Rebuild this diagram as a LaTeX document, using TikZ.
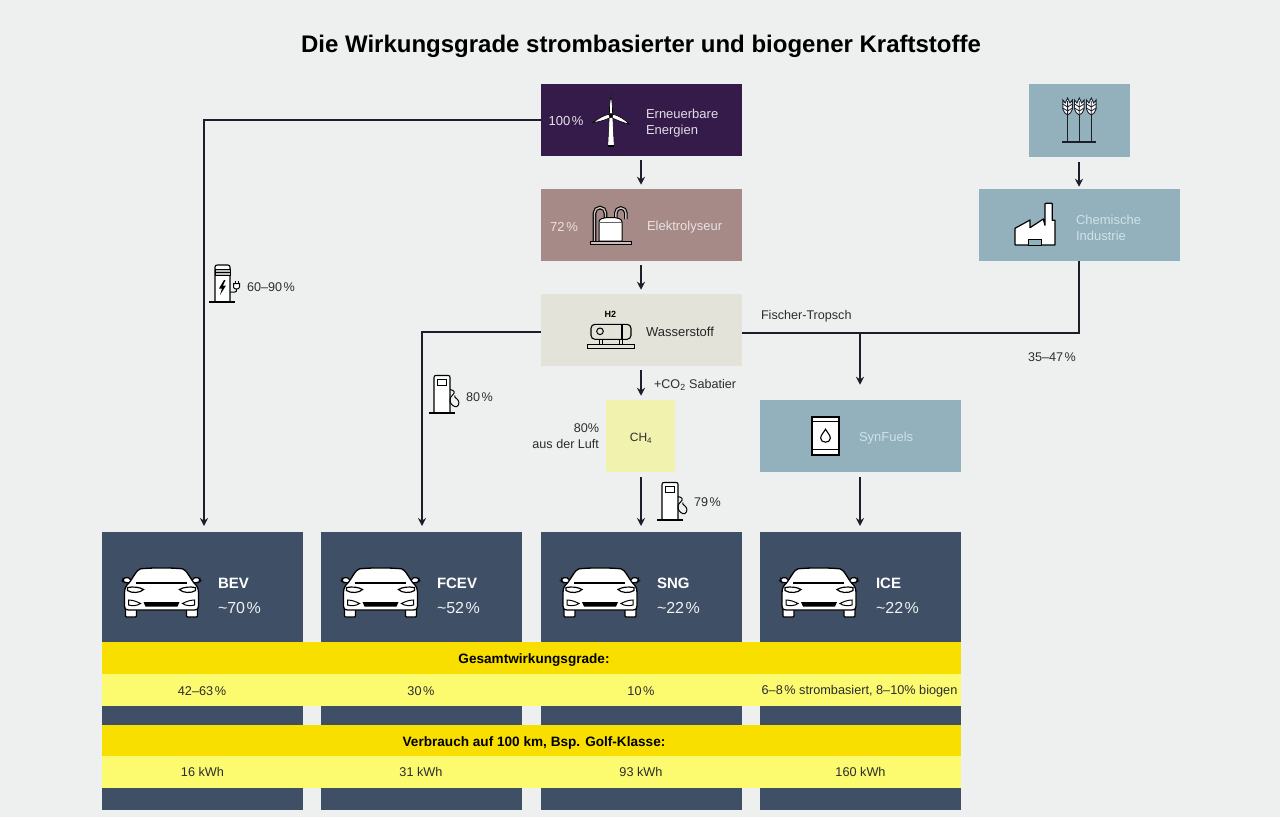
\documentclass[tikz,border=0pt]{standalone}
\usepackage{fontspec}
\setmainfont{Liberation Sans}
\usetikzlibrary{arrows.meta}
\definecolor{bgc}{HTML}{EEF0F0}
\definecolor{purp}{HTML}{351B4A}
\definecolor{rose}{HTML}{A68A88}
\definecolor{sand}{HTML}{E4E3DA}
\definecolor{teal}{HTML}{92B1BC}
\definecolor{pale}{HTML}{F1F2AE}
\definecolor{navy}{HTML}{3F4F65}
\definecolor{ydark}{HTML}{F9DF00}
\definecolor{ylight}{HTML}{FCFA6E}
\definecolor{ink}{HTML}{1B1F29}
\definecolor{txt}{HTML}{2A2C30}
\definecolor{palet}{HTML}{CFE2EA}
\newcommand{\fs}[1]{\fontsize{#1}{#1}\selectfont}
\newcommand{\fsb}[2]{\fontsize{#1}{#2}\selectfont}
\newcommand{\pc}{\kern1.6pt\%}
\tikzset{
  box/.style={rectangle,inner sep=0pt,outer sep=0pt},
  bigbox/.style={box,minimum width=201,minimum height=72.5},
  carbox/.style={box,fill=navy,minimum width=201,minimum height=278},
  band/.style={box,minimum width=859,minimum height=32},
  lab/.style={inner sep=0pt,outer sep=0pt,text=txt,font=\fsb{12.6}{16},align=left},
  boxlab/.style={inner sep=0pt,outer sep=0pt,anchor=west,font=\fsb{13}{16},align=left},
  vallab/.style={inner sep=0pt,outer sep=0pt,text=txt,font=\fs{12.7}},
  headlab/.style={inner sep=0pt,outer sep=0pt,text=black,font=\bfseries\fs{13.6}},
  carname/.style={inner sep=0pt,outer sep=0pt,anchor=west,text=white,font=\bfseries\fs{15}},
  carval/.style={inner sep=0pt,outer sep=0pt,anchor=west,text=white!92!navy,font=\fs{16}},
  conn/.style={draw=ink,line width=1.7},
  arr/.style={conn,-{Stealth[length=8,width=8]}},
  caricon/.pic={
    \begin{scope}[draw=black,line width=1.2,fill=white]
      \foreach \s in {-1,1}{
        \begin{scope}[xscale=\s]
          \path[fill=white,draw=black,rounded corners=1] (25,40) -- (25,49) -- (36,49) -- (36,40) -- cycle;
          \path[fill=white,draw=black,rounded corners=2] (30,14.5) -- (31,10) -- (38,9.5) -- (39,13) -- (36,15) -- cycle;
        \end{scope}}
      \path[fill=white,draw=black,line width=1.3] (-21,0.8) .. controls (-8,-0.4) and (8,-0.4) .. (21,0.8)
        .. controls (25,1.5) and (29,11) .. (33,15.5) .. controls (36,18) and (37,21) .. (37,25)
        -- (37,38) .. controls (37,41) and (36,42) .. (33,42) -- (-33,42) .. controls (-36,42) and (-37,41) .. (-37,38)
        -- (-37,25) .. controls (-37,21) and (-36,18) .. (-33,15.5) .. controls (-29,11) and (-25,1.5) .. (-21,0.8) -- cycle;
      \draw[line width=2] (-26,14.5) -- (25,14.5);
      \foreach \s in {-1,1}{
        \begin{scope}[xscale=\s]
          \path[fill=white,draw=black,line width=1.2] (34,19.5) .. controls (28,18.5) and (22,19) .. (18,21.5) .. controls (21,25) and (30,25.5) .. (34,22.5) -- cycle;
          \path[fill=white,draw=black,line width=1] (33,32) .. controls (28,32) and (24,34) .. (21,35.5) .. controls (24,38) and (30,38) .. (33,37) -- cycle;
        \end{scope}}
      \path[fill=black] (-18,34) -- (18,34) -- (16,38.5) -- (-16,38.5) -- cycle;
    \end{scope}},
  pumpicon/.pic={
    \path[fill=white,draw=black,line width=1.1] (5,37.5) -- (5,2) .. controls (5,0.5) and (6,0) .. (7,0) -- (19,0) .. controls (20.5,0) and (21,0.5) .. (21,2) -- (21,37.5) -- cycle;
    \path[fill=white,draw=black,line width=1] (8,3.5) rectangle (17,9.5);
    \draw[black,line width=1.1] (0,37.5) -- (26,37.5);
    \draw[black,line width=1] (21,14) .. controls (26,15) and (26,17) .. (24,19) .. controls (22,21) and (20,23) .. (21,26)
       .. controls (22,29) and (25,32) .. (28,31) .. controls (31,29) and (30,25) .. (28,23.5) .. controls (26,22) and (25,21) .. (26,20);
  },
  turbineicon/.pic={
    \path[fill=white,draw=black,line width=.5] (-1.8,2) -- (-3.2,30) -- (3.2,30) -- (1.8,2) -- cycle;
    \path[fill=black] (-3.4,29) rectangle (3.4,31);
    \path[fill=white,draw=black,line width=.6] (-1.4,-2) .. controls (-2,-8) and (-1,-15) .. (0,-20) .. controls (1,-15) and (1.8,-8) .. (1.4,-2) -- cycle;
    \path[fill=white,draw=black,line width=.6] (-2,-1.5) .. controls (-8,0) and (-13,3) .. (-18,7) .. controls (-12,6) and (-6,4.5) .. (-1,2) -- cycle;
    \path[fill=white,draw=black,line width=.6] (2,-1.5) .. controls (8,0) and (14,4) .. (18.5,8.5) .. controls (12,7) and (6,4.5) .. (1,2) -- cycle;
    \path[fill=black] (0,0) circle (1.6);
  },
  electroicon/.pic={
    \foreach \a/\b/\r in {-16/-5/5.5, 5.3/15.4/5.05}{
      \draw[black,line width=3.6] (\a,30) -- (\a,2) arc[start angle=180,end angle=360,radius=\r] -- (\b,8);
      \draw[rose!55!white,line width=1.4] (\a,30) -- (\a,2) arc[start angle=180,end angle=360,radius=\r] -- (\b,8);
    }
    \path[fill=white,draw=black,line width=1] (-11.5,30) -- (-11.5,11) .. controls (-11.5,8) and (-8,6.5) .. (0,6.5) .. controls (8,6.5) and (11.5,8) .. (11.5,11) -- (11.5,30) -- cycle;
    \draw[black!60,line width=1.4] (-11.5,11.5) -- (11.5,11.5);
    \path[fill=rose!55!white,draw=black,line width=.8] (-20.5,30) rectangle (21,33.5);
  },
  tankicon/.pic={
    \path[fill=white!0!sand,draw=black,line width=1.1,rounded corners=4] (-20,0) rectangle (20,15);
    \draw[black,line width=1] (-11,7) circle (3.3);
    \draw[black,line width=1.1] (11,0) -- (11,15);
    \foreach \q in {-10,10}{\draw[black,line width=1] (\q-1.5,15) -- (\q-1.5,20) (\q+1.5,15) -- (\q+1.5,20);}
    \path[fill=sand,draw=black,line width=.9] (-23.5,20) rectangle (23.5,24);
  },
  chargeicon/.pic={
    \path[fill=white,draw=black,line width=1.1] (6,37) -- (6,2) .. controls (6,.5) and (7,0) .. (8.5,0) -- (18.5,0) .. controls (20,0) and (21,.5) .. (21,2) -- (21,37) -- cycle;
    \path[fill=black!25,draw=black,line width=.8] (6,4.5) rectangle (21,10);
    \draw[black,line width=.7] (6,7.2) -- (21,7.2);
    \draw[black,line width=1.1] (0,37) -- (26,37);
    \path[fill=black] (15,15) -- (10,23.5) -- (13,23.5) -- (11,30) -- (17,20.5) -- (14,20.5) -- (16.5,15) -- cycle;
    \draw[black,line width=1] (21,27) -- (26,27) .. controls (27.5,27) and (27.5,26) .. (27.5,24);
    \path[fill=white,draw=black,line width=1] (24.5,18.5) -- (30.5,18.5) -- (30.5,22) .. controls (30.5,23.5) and (29,24) .. (27.5,24) .. controls (26,24) and (24.5,23.5) .. (24.5,22) -- cycle;
    \draw[black,line width=1] (26,18.5) -- (26,15.5) (29,18.5) -- (29,15.5);
  },
  wheaticon/.pic={
    \foreach \q in {-11.7,0,12}{
      \draw[ink,line width=1.4] (\q,12) -- (\q,44);
      \begin{scope}[shift={(\q,0)}]
        \path[fill=white,draw=ink,line width=.9] (-4.8,2) -- (-4.8,11) .. controls (-4.8,14) and (-1.5,16) .. (0,17) .. controls (1.5,16) and (4.8,14) .. (4.8,11) -- (4.8,2) -- (2.4,5) -- (0,0) -- (-2.4,5) -- cycle;
        \draw[ink,line width=.8] (-4.8,6) -- (0,9) -- (4.8,6) (-4.8,10) -- (0,13) -- (4.8,10) (0,3) -- (0,17);
      \end{scope}
    }
    \draw[ink,line width=1.3] (-17,44) -- (17,44);
  },
  factoryicon/.pic={
    \path[fill=white,draw=black,line width=1.2,line join=round] (0,41.7) -- (0,25) -- (15,16.7) -- (15,24.4) -- (28.3,15.7) -- (30,22) -- (30,0.5) .. controls (30,0) and (30.5,0) .. (31,0) -- (36.5,0) .. controls (37,0) and (37.3,0) .. (37.3,0.5) -- (37.3,17) -- (40,17) -- (40,41.7) -- cycle;
    \path[fill=teal,draw=black,line width=.9] (13.3,41.7) -- (13.3,35.7) -- (26,35.7) -- (26,41.7) -- cycle;
  },
  barrelicon/.pic={
    \path[fill=white,draw=black,line width=1.1] (1,0) rectangle (28,38);
    \draw[black,line width=1.1] (1,5) -- (28,5) (1,33) -- (28,33);
    \draw[black,line width=1.6] (0,0) -- (29,0) (0,38) -- (29,38);
    \draw[black,line width=1.1] (14.5,12.5) .. controls (12.5,16) and (9.7,18.5) .. (9.7,21.5) .. controls (9.7,24) and (12,25.5) .. (14.5,25.5) .. controls (17,25.5) and (19.3,24) .. (19.3,21.5) .. controls (19.3,18.5) and (16.5,16) .. (14.5,12.5) -- cycle;
  }
}
\begin{document}
\begin{tikzpicture}[x=1pt,y=-1pt]
\useasboundingbox (0,0) rectangle (1280,817);
\fill[bgc] (0,0) rectangle (1280,817);

\node[inner sep=0pt,font=\bfseries\fs{24},text=black] (title) at (641,46) {Die Wirkungsgrade strombasierter und biogener Kraftstoffe};

% process boxes
\node[bigbox,fill=purp] (ee) at (641.5,120) {};
\node[bigbox,fill=rose] (ely) at (641.5,225) {};
\node[bigbox,fill=sand] (ws) at (641.5,330) {};
\node[box,fill=teal,minimum width=101,minimum height=73] (wheat) at (1079.5,120.5) {};
\node[bigbox,fill=teal] (chem) at (1079.5,225) {};
\node[box,fill=pale,minimum width=69,minimum height=72.5] (chf) at (640.5,436) {};
\node[bigbox,fill=teal] (syn) at (860.5,436) {};

% car boxes
\node[carbox] (bev) at (202.5,671) {};
\node[carbox] (fcev) at (421.5,671) {};
\node[carbox] (sng) at (641.5,671) {};
\node[carbox] (ice) at (860.5,671) {};

% bands
\node[band,fill=ydark] (b1) at (531.5,658) {};
\node[band,fill=ylight] (b2) at (531.5,689.5) {};
\node[band,fill=ydark] (b3) at (531.5,740.5) {};
\node[band,fill=ylight] (b4) at (531.5,771.5) {};

% connectors
\draw[arr,shorten <=4,shorten >=4] ([xshift=-.5]ee.south) -- ([xshift=-.5]ely.north);
\draw[arr,shorten <=4,shorten >=4] ([xshift=-.5]ely.south) -- ([xshift=-.5]ws.north);
\draw[arr,shorten <=4,shorten >=4] ([xshift=.5]ws.south -| chf.north) -- ([xshift=.5]chf.north);
\draw[arr,shorten <=5,shorten >=6] ([xshift=.5]chf.south) -- ([xshift=.5]chf.south |- sng.north);
\draw[arr,shorten <=5,shorten >=6] ([xshift=-.5]syn.south) -- ([xshift=-.5]ice.north);
\draw[arr,shorten <=5,shorten >=2] ([xshift=-.5]wheat.south) -- ([xshift=-.5]chem.north);
\draw[arr,shorten >=6] (ee.west) -| ([xshift=1.5]bev.north);
\draw[arr,shorten >=6] ([yshift=-2]ws.west) -| ([xshift=.5]fcev.north);
\draw[conn] ([xshift=-.5]chem.south) |- ([yshift=-3]ws.east);
\coordinate (fork) at ([xshift=-.5]syn.north |- 0,333);
\draw[arr,shorten >=15] (fork) -- ([xshift=-.5]syn.north);

% box labels
\node[lab,text=white!88!purp,anchor=center,font=\fs{13}] (p100) at (566,121) {100\pc};
\node[boxlab,text=white!85!purp] (eelab) at (646,123) {Erneuerbare\\Energien};
\node[lab,text=white!75!rose,anchor=center,font=\fs{13}] (p72) at (564,227) {72\pc};
\node[boxlab,text=white!75!rose] (elylab) at (647,227) {Elektrolyseur};
\node[boxlab,text=black!85] (wslab) at (646,332) {Wasserstoff};
\node[inner sep=0pt,font=\bfseries\fs{9},text=black] (h2) at (610.3,314) {H2};
\node[boxlab,text=palet] (chemlab) at (1076,228) {Chemische\\Industrie};
\node[boxlab,text=palet] (synlab) at (859,438.5) {SynFuels};
\node[lab,font=\fs{12}] (chlab) at (641,438) {CH\textsubscript{4}};

% free labels
\node[lab,anchor=west] (co2) at (654,384.5) {+CO\textsubscript{2} Sabatier};
\node[lab,anchor=east,align=right] (luft) at (599,436.5) {80\%\\aus der Luft};
\node[lab,anchor=west] (p80) at (466,397.5) {80\pc};
\node[lab,anchor=west] (p79) at (694,502) {79\pc};
\node[lab,anchor=west] (p6090) at (247,287) {60--90\pc};
\node[lab,anchor=west] (ft) at (761,316.5) {Fischer-Tropsch};
\node[lab,anchor=west] (p3547) at (1028,357) {35--47\pc};

% icons
\pic (turb) at (611,115.7) {turbineicon};
\pic (elec) at (610.5,211) {electroicon};
\pic (tank) at (611,324.3) {tankicon};
\pic (wh) at (1079.3,98) {wheaticon};
\pic (fac) at (1015,203.3) {factoryicon};
\pic (bar) at (811,416.7) {barrelicon};
\pic (chg) at (209,265) {chargeicon};
\pic (pump1) at (429,375.5) {pumpicon};
\pic (pump2) at (657,482.5) {pumpicon};
\pic (car1) at (161.5,568) {caricon};
\pic (car2) at (380.5,568) {caricon};
\pic (car3) at (600,568) {caricon};
\pic (car4) at (819,568) {caricon};

% car labels
\node[carname] (n1) at (218,583) {BEV};
\node[carval] (v1) at (218,608) {\textasciitilde70\pc};
\node[carname] (n2) at (437,583) {FCEV};
\node[carval] (v2) at (437,608) {\textasciitilde52\pc};
\node[carname] (n3) at (657,583) {SNG};
\node[carval] (v3) at (657,608) {\textasciitilde22\pc};
\node[carname] (n4) at (876,583) {ICE};
\node[carval] (v4) at (876,608) {\textasciitilde22\pc};

% band labels
\node[headlab] (h1) at (534,660.5) {Gesamtwirkungsgrade:};
\node[vallab] (g1) at (202,691.5) {42--63\pc};
\node[vallab] (g2) at (421,691.5) {30\pc};
\node[vallab] (g3) at (641,691.5) {10\pc};
\node[vallab] (g4) at (859.5,691.5) {6--8\pc{} strombasiert, 8--10\% biogen};
\node[headlab] (h3) at (534,742.5) {Verbrauch auf 100 km, Bsp. Golf-Klasse:};
\node[vallab] (k1) at (202.5,772) {16 kWh};
\node[vallab] (k2) at (421,772) {31 kWh};
\node[vallab] (k3) at (641,772) {93 kWh};
\node[vallab] (k4) at (860.5,772) {160 kWh};
\end{tikzpicture}
\end{document}
